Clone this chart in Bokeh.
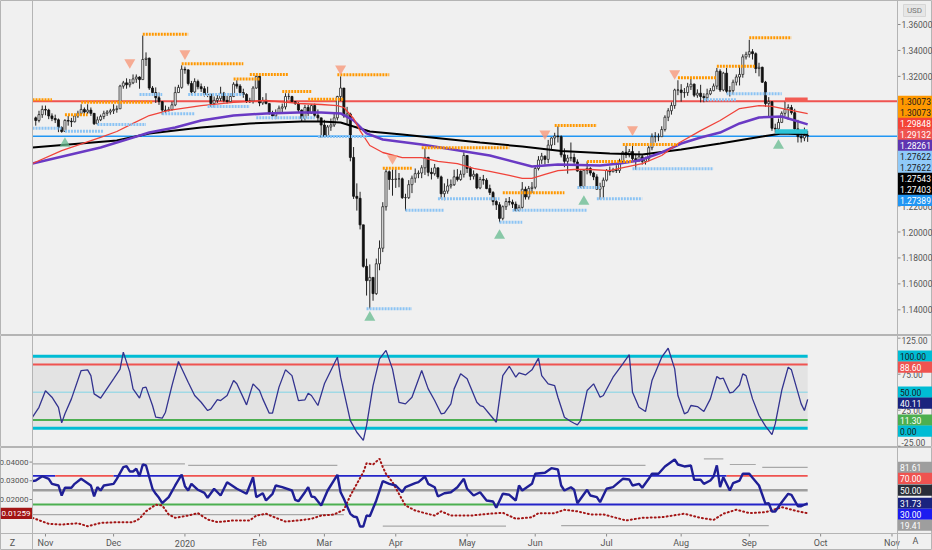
import numpy as np
import pandas as pd
from bokeh.plotting import figure
from bokeh.layouts import column
from bokeh.models import Range1d, Span
from bokeh.core.properties import value
from bokeh.embed import file_html
from bokeh.resources import INLINE

FONT = "Roboto"
BG = "#f0f0f0"
W = 932
LB, RB = 32, 35          # left / right scale areas (px)
H1, H2, H3 = 335, 112, 103
BAND = 17                # time scale band at the bottom of the last pane

# daily GBPUSD bars, one per weekday from 2019-10-29 to 2020-09-25
start_day = "2019-10-29"
first_open = 1.2880
close = [
    1.2860, 1.2905, 1.2945,
    1.2940, 1.2895, 1.2875, 1.2865, 1.2805, 1.2775, 1.2860, 1.2855, 1.2850, 1.2895, 1.2915, 1.2945, 1.2925, 1.2940, 1.2915, 1.2835, 1.2865, 1.2890, 1.2915, 1.2925, 1.2935,
    1.2945, 1.2950, 1.3125, 1.3150, 1.3135, 1.3150, 1.3180, 1.3195, 1.3175, 1.3330, 1.3340, 1.3110, 1.3075, 1.3035, 1.3005, 1.2940, 1.2935, 1.2945, 1.2980, 1.3075, 1.3115, 1.3255,
    1.3250, 1.3145, 1.3080, 1.3160, 1.3120, 1.3105, 1.3060, 1.3060, 1.2990, 1.3015, 1.3030, 1.3070, 1.3015, 1.3005, 1.3045, 1.3140, 1.3125, 1.3075, 1.3060, 1.3005, 1.3010, 1.3110, 1.3200,
    1.2995, 1.3015, 1.2990, 1.2915, 1.2895, 1.2920, 1.2955, 1.2965, 1.3045, 1.3045, 1.3005, 1.2990, 1.2940, 1.2875, 1.2960, 1.2915, 1.2975, 1.2900, 1.2880, 1.2825,
    1.2740, 1.2810, 1.2825, 1.2880, 1.3045, 1.3110, 1.2895, 1.2910, 1.2575, 1.2275, 1.2260, 1.2055, 1.1735, 1.1625, 1.1650, 1.1525, 1.1755, 1.1875, 1.2195, 1.2465, 1.2405, 1.2405,
    1.2410, 1.2410, 1.2265, 1.2265, 1.2365, 1.2415, 1.2450, 1.2455, 1.2495, 1.2575, 1.2460, 1.2450, 1.2495, 1.2425, 1.2295, 1.2315, 1.2355, 1.2365, 1.2425, 1.2405, 1.2445, 1.2590,
    1.2490, 1.2430, 1.2445, 1.2340, 1.2405, 1.2400, 1.2335, 1.2305, 1.2235, 1.2210, 1.2105, 1.2195, 1.2235, 1.2230, 1.2215, 1.2165, 1.2190, 1.2330, 1.2270, 1.2335, 1.2345,
    1.2490, 1.2555, 1.2585, 1.2560, 1.2670, 1.2725, 1.2740, 1.2735, 1.2595, 1.2545, 1.2570, 1.2575, 1.2540, 1.2470, 1.2350, 1.2475, 1.2490, 1.2455, 1.2425, 1.2330, 1.2350, 1.2400,
    1.2475, 1.2465, 1.2480, 1.2475, 1.2545, 1.2615, 1.2595, 1.2620, 1.2565, 1.2555, 1.2580, 1.2545, 1.2565, 1.2650, 1.2735, 1.2735, 1.2735, 1.2790, 1.2885, 1.2935, 1.2975, 1.3095, 1.3095,
    1.3075, 1.3075, 1.3120, 1.3140, 1.3055, 1.3070, 1.3045, 1.3035, 1.3065, 1.3090, 1.3125, 1.3240, 1.3095, 1.3225, 1.3085, 1.3090, 1.3155, 1.3195, 1.3215, 1.3350, 1.3370,
    1.3390, 1.3375, 1.3260, 1.3270, 1.3155, 1.2990, 1.3005, 1.2800, 1.2795, 1.2845, 1.2915, 1.2945, 1.2960, 1.2920, 1.2795, 1.2735, 1.2725, 1.2745, 1.2740,
]
high = [
    1.2890, 1.2935, 1.2975,
    1.2975, 1.2950, 1.2915, 1.2905, 1.2875, 1.2815, 1.2870, 1.2895, 1.2880, 1.2910, 1.2935, 1.2985, 1.2960, 1.2985, 1.2960, 1.2915, 1.2890, 1.2905, 1.2935, 1.2940, 1.2950,
    1.2985, 1.2975, 1.3135, 1.3165, 1.3185, 1.3180, 1.3215, 1.3215, 1.3200, 1.3515, 1.3385, 1.3345, 1.3125, 1.3115, 1.3075, 1.3010, 1.2975, 1.2965, 1.3005, 1.3120, 1.3135, 1.3285,
    1.3275, 1.3255, 1.3165, 1.3185, 1.3175, 1.3145, 1.3125, 1.3120, 1.3070, 1.3045, 1.3055, 1.3120, 1.3080, 1.3050, 1.3070, 1.3155, 1.3170, 1.3140, 1.3105, 1.3070, 1.3035, 1.3125, 1.3210,
    1.3215, 1.3040, 1.3070, 1.2990, 1.2935, 1.2945, 1.2975, 1.2990, 1.3070, 1.3070, 1.3050, 1.3010, 1.3000, 1.2945, 1.2980, 1.2980, 1.2985, 1.2990, 1.2945, 1.2870,
    1.2865, 1.2825, 1.2875, 1.2920, 1.3050, 1.3200, 1.3110, 1.2965, 1.2920, 1.2655, 1.2375, 1.2310, 1.2055, 1.1795, 1.1750, 1.1645, 1.1795, 1.1935, 1.2230, 1.2485, 1.2475, 1.2485,
    1.2485, 1.2455, 1.2420, 1.2295, 1.2400, 1.2435, 1.2490, 1.2475, 1.2515, 1.2645, 1.2580, 1.2495, 1.2525, 1.2495, 1.2435, 1.2375, 1.2410, 1.2405, 1.2480, 1.2485, 1.2475, 1.2615,
    1.2590, 1.2505, 1.2475, 1.2455, 1.2425, 1.2440, 1.2415, 1.2365, 1.2315, 1.2250, 1.2230, 1.2205, 1.2260, 1.2270, 1.2250, 1.2235, 1.2210, 1.2385, 1.2350, 1.2355, 1.2385,
    1.2505, 1.2585, 1.2610, 1.2590, 1.2710, 1.2730, 1.2765, 1.2815, 1.2745, 1.2645, 1.2595, 1.2690, 1.2605, 1.2560, 1.2475, 1.2480, 1.2545, 1.2500, 1.2465, 1.2445, 1.2380, 1.2420,
    1.2485, 1.2505, 1.2495, 1.2515, 1.2565, 1.2625, 1.2665, 1.2640, 1.2670, 1.2595, 1.2625, 1.2595, 1.2580, 1.2665, 1.2760, 1.2770, 1.2760, 1.2815, 1.2900, 1.2955, 1.3000, 1.3105, 1.3170,
    1.3140, 1.3110, 1.3150, 1.3185, 1.3145, 1.3100, 1.3135, 1.3070, 1.3105, 1.3110, 1.3145, 1.3265, 1.3255, 1.3235, 1.3265, 1.3125, 1.3175, 1.3215, 1.3285, 1.3370, 1.3390,
    1.3482, 1.3410, 1.3385, 1.3305, 1.3275, 1.3165, 1.3040, 1.3010, 1.2835, 1.2875, 1.2930, 1.3005, 1.2985, 1.2980, 1.2950, 1.2865, 1.2770, 1.2805, 1.2780,
]
low = [
    1.2820, 1.2845, 1.2880,
    1.2900, 1.2870, 1.2855, 1.2840, 1.2770, 1.2765, 1.2780, 1.2820, 1.2810, 1.2845, 1.2880, 1.2900, 1.2900, 1.2910, 1.2895, 1.2825, 1.2830, 1.2855, 1.2870, 1.2895, 1.2905,
    1.2910, 1.2920, 1.2950, 1.3105, 1.3105, 1.3115, 1.3140, 1.3150, 1.3105, 1.3175, 1.3280, 1.3095, 1.3060, 1.2995, 1.2980, 1.2905, 1.2915, 1.2930, 1.2935, 1.2970, 1.3075, 1.3105,
    1.3220, 1.3130, 1.3055, 1.3070, 1.3100, 1.3080, 1.3045, 1.3040, 1.2965, 1.2960, 1.2995, 1.3010, 1.3000, 1.2990, 1.2995, 1.3040, 1.3105, 1.3060, 1.3035, 1.2995, 1.2995, 1.2990, 1.3105,
    1.2970, 1.2980, 1.2985, 1.2905, 1.2870, 1.2870, 1.2915, 1.2925, 1.2945, 1.3020, 1.2995, 1.2980, 1.2925, 1.2855, 1.2860, 1.2895, 1.2910, 1.2885, 1.2850, 1.2725,
    1.2725, 1.2725, 1.2780, 1.2810, 1.2860, 1.3010, 1.2880, 1.2835, 1.2545, 1.2255, 1.2165, 1.2020, 1.1725, 1.1510, 1.1410, 1.1470, 1.1515, 1.1705, 1.1845, 1.2165, 1.2325, 1.2280,
    1.2340, 1.2345, 1.2255, 1.2165, 1.2255, 1.2300, 1.2380, 1.2415, 1.2415, 1.2440, 1.2430, 1.2405, 1.2435, 1.2410, 1.2255, 1.2245, 1.2295, 1.2335, 1.2355, 1.2390, 1.2395, 1.2420,
    1.2455, 1.2400, 1.2405, 1.2330, 1.2330, 1.2365, 1.2330, 1.2285, 1.2205, 1.2170, 1.2075, 1.2090, 1.2170, 1.2205, 1.2185, 1.2160, 1.2160, 1.2180, 1.2250, 1.2250, 1.2300,
    1.2330, 1.2475, 1.2525, 1.2520, 1.2530, 1.2640, 1.2670, 1.2690, 1.2575, 1.2500, 1.2450, 1.2545, 1.2525, 1.2465, 1.2340, 1.2335, 1.2445, 1.2435, 1.2400, 1.2330, 1.2250, 1.2255,
    1.2390, 1.2435, 1.2460, 1.2455, 1.2455, 1.2530, 1.2570, 1.2575, 1.2545, 1.2480, 1.2540, 1.2520, 1.2520, 1.2545, 1.2630, 1.2690, 1.2700, 1.2735, 1.2775, 1.2855, 1.2905, 1.2950, 1.3055,
    1.3005, 1.3035, 1.3050, 1.3095, 1.3040, 1.3035, 1.3000, 1.3000, 1.3005, 1.3055, 1.3085, 1.3100, 1.3080, 1.3085, 1.3070, 1.3045, 1.3060, 1.3130, 1.3130, 1.3190, 1.3330,
    1.3345, 1.3330, 1.3225, 1.3200, 1.3150, 1.2965, 1.2885, 1.2780, 1.2765, 1.2780, 1.2840, 1.2895, 1.2865, 1.2905, 1.2785, 1.2690, 1.2690, 1.2700, 1.2695,
]

# moving averages (bar, value)
ma_red = [(-1, 1.2528), (8, 1.2628), (20, 1.2729), (25, 1.2775), (30, 1.2837), (35, 1.2898), (41, 1.2937), (51, 1.2975),
          (61, 1.2999), (71, 1.3014), (81, 1.2991), (88, 1.2983), (93, 1.2975), (95, 1.2960), (98, 1.2875), (100, 1.2782),
          (103, 1.2667), (107, 1.2613), (113, 1.2574), (119, 1.2574), (124, 1.2544), (130, 1.2528), (135, 1.2490),
          (140, 1.2467), (146, 1.2436), (150, 1.2413), (153, 1.2413), (157, 1.2444), (161, 1.2474), (166, 1.2482),
          (171, 1.2482), (177, 1.2474), (180, 1.2490), (187, 1.2528), (193, 1.2590), (198, 1.2682), (205, 1.2782),
          (211, 1.2860), (217, 1.2952), (223, 1.2975), (227, 1.2968), (233, 1.2937), (238, 1.2913)]
ma_purple = [(-1, 1.2528), (20, 1.2652), (27, 1.2705), (35, 1.2767), (43, 1.2806), (51, 1.2860), (61, 1.2898), (71, 1.2914),
             (81, 1.2921), (88, 1.2921), (94, 1.2914), (98, 1.2860), (102, 1.2760), (107, 1.2713), (119, 1.2675),
             (140, 1.2590), (153, 1.2505), (161, 1.2521), (174, 1.2513), (180, 1.2528), (186, 1.2551), (193, 1.2613),
             (199, 1.2682), (205, 1.2729), (211, 1.2767), (217, 1.2837), (223, 1.2883), (230, 1.2891), (238, 1.2830)]
ma_black = [(-1, 1.2652), (25, 1.2705), (35, 1.2760), (51, 1.2806), (66, 1.2837), (82, 1.2852), (88, 1.2852), (94, 1.2844),
            (98, 1.2814), (103, 1.2775), (113, 1.2752), (125, 1.2721), (137, 1.2690), (150, 1.2659), (162, 1.2625),
            (177, 1.2605), (187, 1.2598), (199, 1.2636), (211, 1.2682), (224, 1.2736), (230, 1.2760), (238, 1.2752)]

# resistance / support runs (first bar, last bar, price)
resistance = [(-1, 5, 1.3020), (9, 16, 1.2905), (14, 36, 1.3000), (33, 47, 1.3525), (45, 64, 1.3297), (61, 69, 1.3180),
              (66, 78, 1.3214), (76, 85, 1.3083), (84, 95, 1.3024), (93, 109, 1.3212), (107, 116, 1.2492),
              (119, 146, 1.2649), (144, 163, 1.2302), (160, 173, 1.2821), (170, 184, 1.2543), (181, 198, 1.2674),
              (198, 210, 1.3189), (210, 222, 1.3278), (220, 233, 1.3497)]
support = [(-1, 8, 1.2800), (9, 21, 1.2777), (19, 34, 1.2829), (32, 39, 1.3060), (39, 49, 1.2911), (47, 64, 1.3060),
           (53, 66, 1.2968), (68, 86, 1.2880), (87, 102, 1.2736), (102, 116, 1.1408), (114, 126, 1.2168),
           (124, 143, 1.2256), (143, 150, 1.2075), (147, 170, 1.2168), (167, 174, 1.2343), (173, 187, 1.2256),
           (184, 209, 1.2487), (206, 216, 1.3019), (213, 230, 1.3066)]
last_resistance = (231, 238, 1.3019)
last_support = (228, 238, 1.2775)
swing_high_marks = [(29, 1.3307), (46, 1.3376), (94, 1.3260), (110, 1.2567), (157, 1.2759), (184, 1.2790), (197, 1.3222)]
swing_low_marks = [(9, 1.2682), (103, 1.1341), (143, 1.1973), (169, 1.2235), (229, 1.2667)]
red_level = 1.30073
blue_level = 1.27389
price_ticks = [1.14, 1.16, 1.18, 1.20, 1.22, 1.24, 1.26, 1.28, 1.30, 1.32, 1.34, 1.36]
price_tags = [(1.30073, "#ff9800", "#1a1a1a"), (1.30073, "#ff9800", "#1a1a1a"), (1.29848, "#f44336", "#ffffff"),
              (1.29132, "#ef5350", "#ffffff"), (1.28261, "#5e35b1", "#ffffff"), (1.27622, "#90caf9", "#1a1a1a"),
              (1.27622, "#90caf9", "#1a1a1a"), (1.27543, "#000000", "#ffffff"), (1.27403, "#000000", "#ffffff"),
              (1.27389, "#2196f3", "#ffffff")]

# oscillator pane (bar, value)
osc = [(-1, 15.3), (1, 29), (3, 52), (5, 43), (7, 29), (8, 7.4), (9, 20), (11, 40.7), (14, 80), (16, 81), (17, 73),
       (18, 47.7), (20, 41.7), (24, 68.5), (26, 82), (27, 105.6), (29, 77.8), (30, 54.6), (32, 41.7), (33, 56), (34, 57),
       (36, 31.5), (37, 15.3), (39, 13.9), (40, 22.2), (42, 59), (44, 92.6), (47, 63.9), (49, 45.4), (51, 36), (53, 24.5),
       (54, 26.9), (56, 39.8), (57, 38.4), (59, 45.4), (61, 66.2), (62, 61.6), (65, 32.4), (67, 61.6), (69, 52.3),
       (70, 40.7), (72, 20.8), (73, 20.8), (75, 57), (77, 81), (79, 73), (81, 38.4), (83, 39.4), (84, 48.6), (85, 45.4),
       (87, 31.5), (89, 61.6), (93, 98.6), (94, 70.8), (97, 10.6), (99, -5.6), (101, -17), (102, 3.7), (104, 59),
       (106, 96.3), (108, 108), (110, 82), (112, 36), (114, 33.8), (116, 43), (119, 80), (121, 54.6), (123, 38.4),
       (125, 20), (126, 20.8), (128, 33.8), (129, 54.6), (131, 75.5), (133, 68.5), (136, 36), (137, 31.5), (138, 30),
       (140, 19), (142, 8.3), (144, 73), (146, 86), (148, 70.8), (149, 76.9), (151, 74), (153, 81), (155, 97.2),
       (156, 73), (158, 61.6), (160, 59), (161, 43), (163, 15.3), (165, 9.3), (166, 6.9), (167, 4.6), (168, 10.6),
       (170, 52.3), (172, 61.6), (174, 43), (175, 45.4), (178, 70.8), (181, 89.4), (183, 102), (184, 50), (186, 29.2),
       (188, 23.1), (190, 66.2), (193, 98.6), (195, 111), (197, 82.4), (198, 45.4), (200, 20), (201, 22.2), (202, 31.5),
       (204, 30), (206, 23.1), (208, 40.7), (210, 71.8), (211, 68.5), (212, 69.4), (214, 49), (215, 50), (217, 60),
       (218, 75.5), (219, 73), (221, 40.7), (223, 17.6), (225, 2.8), (227, -8.8), (228, 6), (230, 52.3), (232, 84.7),
       (233, 81), (236, 33.8), (237, 24.5), (238, 40.11)]
osc_levels = [(100, "#00bcd4", 3), (88.6, "#ef5350", 2), (50, "#80d4e6", 1), (11.3, "#4caf50", 2), (0, "#00bcd4", 3)]
osc_ticks = [-25, 25, 75, 125]
osc_tags = [(100.0, "#00bcd4", "#1a1a1a"), (88.60, "#ef5350", "#ffffff"), (50.0, "#00bcd4", "#1a1a1a"),
            (40.11, "#1a237e", "#ffffff"), (11.30, "#4caf50", "#ffffff"), (0.0, "#00bcd4", "#1a1a1a")]

# RSI / ATR pane
rsi = [(-1, 62.5), (0, 63.4), (2, 69.4), (4, 65.8), (5, 58.8), (7, 56.5), (8, 42.5), (9, 53.3), (11, 53.3), (12, 58.8),
       (14, 65.8), (16, 59.7), (17, 56.5), (18, 41.2), (19, 54.1), (20, 49.5), (21, 56.5), (24, 58.8), (25, 65.8),
       (27, 82), (28, 83.4), (29, 76), (30, 76), (31, 79.8), (32, 69.4), (33, 85.7), (34, 84.4), (36, 51.9), (37, 44.9),
       (38, 39.3), (39, 31.8), (41, 40.2), (43, 56.5), (45, 71.8), (46, 55.5), (47, 49.5), (48, 58.8), (50, 50.5),
       (52, 46.3), (53, 39.3), (55, 51.9), (57, 42.5), (59, 61.1), (62, 51.9), (65, 44.9), (67, 68), (68, 40.2),
       (70, 45.7), (71, 35.6), (73, 44.9), (74, 56.5), (76, 54.1), (79, 49.5), (80, 36.5), (81, 34.6), (83, 47.1),
       (84, 54.1), (85, 41.2), (86, 40.2), (88, 28.6), (90, 49.5), (93, 71.4), (94, 47.1), (95, 38), (97, 17),
       (98, 13.3), (99, 12.3), (100, -0.7), (101, -0.7), (102, 14.7), (103, 13.7), (105, 35.6), (107, 62.5),
       (109, 58.8), (111, 56.5), (113, 47.1), (114, 54.1), (117, 59.7), (118, 61.1), (120, 69), (121, 58.8),
       (123, 54.1), (124, 41.2), (126, 45.7), (128, 47.1), (130, 54.1), (132, 65.8), (133, 51.9), (135, 42.5),
       (137, 47.1), (139, 35.6), (141, 34.2), (142, 25.4), (144, 44.9), (146, 43.5), (148, 35.6), (149, 56.5),
       (150, 49.5), (153, 58.8), (154, 72.8), (157, 74.2), (159, 80.6), (161, 78.8), (162, 56.5), (163, 49.5),
       (165, 54.1), (166, 50.5), (167, 31.8), (170, 50.5), (171, 42.5), (173, 40.2), (174, 33.2), (176, 51.9),
       (178, 54.1), (181, 65.8), (183, 64.8), (184, 56.5), (186, 58.8), (187, 53.3), (189, 65.8), (190, 72.8),
       (192, 72.8), (194, 83), (197, 92.7), (198, 85.7), (200, 83), (202, 84.4), (203, 64.4), (205, 64.4),
       (206, 58.8), (208, 63.4), (209, 69), (210, 84.4), (211, 54.1), (212, 68), (214, 49.5), (215, 59.7),
       (217, 63.4), (218, 72.8), (220, 72.8), (221, 67.2), (223, 56.5), (225, 31), (226, 31.8), (227, 20.2),
       (228, 20.2), (230, 33.2), (232, 44.9), (233, 43.5), (235, 27.6), (236, 27.6), (238, 31.73)]
atr = [(-1, 0.0102), (4, 0.0070), (8, 0.0066), (13, 0.0073), (16, 0.0057), (20, 0.0075), (26, 0.0079), (30, 0.0079),
       (32, 0.0097), (34, 0.0137), (37, 0.0172), (39, 0.0168), (41, 0.0120), (43, 0.0102), (47, 0.0114), (50, 0.0127),
       (53, 0.0093), (56, 0.0079), (61, 0.0088), (66, 0.0088), (68, 0.0114), (71, 0.0124), (74, 0.0102), (77, 0.0082),
       (81, 0.0088), (85, 0.0097), (88, 0.0114), (92, 0.0120), (95, 0.0145), (97, 0.0221), (99, 0.0284), (101, 0.0346),
       (102, 0.0394), (104, 0.0387), (106, 0.0418), (107, 0.0373), (108, 0.0337), (110, 0.0293), (112, 0.0230),
       (114, 0.0168), (117, 0.0141), (120, 0.0127), (123, 0.0114), (125, 0.0137), (128, 0.0114), (134, 0.0114),
       (140, 0.0124), (144, 0.0129), (148, 0.0097), (153, 0.0105), (155, 0.0127), (160, 0.0127), (163, 0.0145),
       (167, 0.0137), (171, 0.0120), (175, 0.0120), (182, 0.0088), (187, 0.0102), (193, 0.0105), (200, 0.0124),
       (205, 0.0102), (209, 0.0091), (212, 0.0124), (216, 0.0145), (220, 0.0127), (225, 0.0132), (230, 0.0159),
       (234, 0.0141), (238, 0.01259)]
rsi_high_runs = [(-1, 46, 86.5), (47, 93, 84.4), (107, 188, 84.4), (206, 212, 93.6), (214, 222, 85.7), (224, 238, 81.61)]
rsi_low_runs = [(-1, 95, 16.0), (107, 145, 0.0), (162, 226, 0.7)]
upper_runs = [(-1, 6, "#2424c8"), (6, 24, "#ef5350"), (24, 45, "#2424c8"), (45, 93, "#ef5350"),
              (93, 213, "#2424c8"), (213, 238, "#ef5350")]
lower_runs = [(-1, 143, "#4caf50"), (143, 238, "#2424c8")]
rsi_tags = [(81.61, "#9e9e9e", "#ffffff"), (70.0, "#ef5350", "#ffffff"), (50.0, "#2a2e39", "#ffffff"),
            (31.73, "#1a237e", "#ffffff"), (30.0, "#1c1cf0", "#ffffff"), (19.41, "#9e9e9e", "#ffffff")]
atr_ticks = [0.02, 0.03, 0.04]
atr_tag = (0.01259, "#a31515", "#ffffff")

# horizontal geometry: bars -1 .. 265.7 fill the area between the two scales
X0, X1 = -1.0, 265.7
SX = (W - LB - RB) / (X1 - X0)
XL, XR = X0 - LB / SX, X1 + RB / SX
x_range = Range1d(XL, XR)


def make_fig(h, y0, y1):
    f = figure(width=W, height=h, x_range=x_range, y_range=Range1d(y0, y1),
               output_backend="svg", toolbar_location=None,
               x_axis_location=None, y_axis_location=None, min_border=0,
               background_fill_color=BG, border_fill_color=BG,
               outline_line_color="#b4b4b4", outline_line_width=1)
    f.grid.visible = False
    for loc in (X0, X1):
        f.add_layout(Span(location=loc, dimension="height", line_color="#b4b4b4", line_width=1))
    return f


def txt(f, xs, ys, labels, size="9px", color="#555555", align="left", **kw):
    f.text(x=xs, y=ys, text=labels, text_font=value(FONT), text_font_size=size, text_color=color,
           text_align=align, text_baseline="middle", **kw)


def right_ticks(f, ticks, fmt, y0, y1, sy):
    n = len(ticks)
    f.segment([X1] * n, ticks, [X1 + 3 / SX] * n, ticks, line_color="#8a8a8a", line_width=1)
    ty = [min(max(t, y0 + 5 / sy), y1 - 5 / sy) for t in ticks]
    txt(f, [X1 + 4 / SX] * n, ty, [fmt % t for t in ticks], size="8.5px")


def tags(f, items, y1, sy, fmt, side="right", **kw):
    last = -1e9
    for val, bg, fg in sorted(items, key=lambda t: -t[0]):
        py = max((y1 - val) * sy, last + 11)
        last = py
        yc = y1 - py / sy
        hh = 5.6 / sy
        if side == "right":
            f.quad(left=[X1], right=[XR], bottom=[yc - hh], top=[yc + hh], fill_color=bg, line_color=None, **kw)
            txt(f, [X1 + 2.5 / SX], [yc], [fmt % val], size="8.5px", color=fg, **kw)
        else:
            f.quad(left=[XL], right=[X0], bottom=[yc - hh], top=[yc + hh], fill_color=bg, line_color=None, **kw)
            txt(f, [X0 - 2 / SX], [yc], [fmt % val], size="8px", color=fg, align="right", **kw)


def unzip(pts):
    return [p[0] for p in pts], [p[1] for p in pts]


def runs_xy(runs):
    return [r[0] for r in runs], [r[2] for r in runs], [r[1] for r in runs], [r[2] for r in runs]


n = len(close)
pos = np.arange(n)
c = np.array(close)
o = np.r_[first_open, c[:-1]]
up = c >= o
last_bar = n - 1

# ---------- main price pane ----------
P0, P1 = 1.1202, 1.3785
SY1 = H1 / (P1 - P0)
p1 = make_fig(H1, P0, P1)
right_ticks(p1, price_ticks, "%.5f", P0, P1, SY1)

p1.segment([X0, X0], [red_level, blue_level], [X1, X1], [red_level, blue_level],
           line_color=["#ef5350", "#2196f3"], line_width=[2, 1.5])

p1.segment(pos, high, pos, low, line_color="#222222", line_width=1)
p1.vbar(x=pos[up], bottom=o[up], top=c[up], width=0.62, fill_color="#ffffff", line_color="#222222", line_width=0.8)
p1.vbar(x=pos[~up], bottom=c[~up], top=o[~up], width=0.62, fill_color="#111111", line_color="#111111", line_width=0.8)

for pts, col, lw in [(ma_black, "#000000", 2), (ma_purple, "#6a3ac4", 2.5), (ma_red, "#f0433a", 1.3)]:
    xs, ys = unzip(pts)
    p1.line(xs, ys, line_color=col, line_width=lw)

for runs, col in [(resistance, "#ff9800"), (support, "#8cc4f4")]:
    p1.segment(*runs_xy(runs), line_color=col, line_width=3, line_dash="2 1")
p1.segment(*runs_xy([last_resistance]), line_color="#f25c54", line_width=4.5)
p1.segment(*runs_xy([last_support]), line_color="#2ec4d6", line_width=4.5)

xs, ys = unzip(swing_high_marks)
p1.scatter(xs, ys, marker="inverted_triangle", size=11, fill_color="#f79a7c", fill_alpha=0.8, line_color=None)
xs, ys = unzip(swing_low_marks)
p1.scatter(xs, ys, marker="triangle", size=11, fill_color="#66bb8f", fill_alpha=0.75, line_color=None)

tags(p1, price_tags, P1, SY1, "%.5f")
usd_y = P1 - 10 / SY1
p1.quad(left=[X1 + 6 / SX], right=[X1 + 28 / SX], bottom=[usd_y - 6 / SY1], top=[usd_y + 6 / SY1],
        fill_color="#e6e6e6", line_color="#d6d6d6")
txt(p1, [X1 + 17 / SX], [usd_y], ["USD"], size="8px", color="#777777", align="center")

# ---------- oscillator pane ----------
O0, O1 = -26.8, 128.7
SY2 = H2 / (O1 - O0)
p2 = make_fig(H2, O0, O1)
right_ticks(p2, osc_ticks, "%.2f", O0, O1, SY2)
p2.quad(left=[X0], right=[last_bar], bottom=[0], top=[100], fill_color="#e3e3e3", line_color=None)
for lvl, col, lw in osc_levels:
    p2.segment([X0], [lvl], [last_bar], [lvl], line_color=col, line_width=lw)
xs, ys = unzip(osc)
p2.line(xs, ys, line_color="#33338f", line_width=1.3)
tags(p2, osc_tags, O1, SY2, "%.2f")

# ---------- RSI / ATR pane with time scale ----------
R0, R1 = -10.4, 109.4
A0, A1 = 0.00182, 0.0478
SY3 = (H3 - BAND) / (R1 - R0)
SA3 = (H3 - BAND) / (A1 - A0)
p3 = make_fig(H3, R0 - BAND / SY3, R1)
p3.extra_y_ranges = {"atr": Range1d(A0 - BAND / SA3, A1)}
p3.add_layout(Span(location=R0, dimension="width", line_color="#b4b4b4", line_width=1))

p3.segment([X0], [50], [last_bar], [50], line_color="#9e9e9e", line_width=2.5)
for runs in (rsi_high_runs, rsi_low_runs):
    p3.segment(*runs_xy(runs), line_color="#a8a8a8", line_width=1.2)
for runs, lvl in [(upper_runs, 70), (lower_runs, 30)]:
    p3.segment([r[0] for r in runs], [lvl] * len(runs), [r[1] for r in runs], [lvl] * len(runs),
               line_color=[r[2] for r in runs], line_width=1.8)
xs, ys = unzip(atr)
p3.line(xs, ys, y_range_name="atr", line_color="#a31515", line_width=2, line_dash="1 3", line_cap="round")
xs, ys = unzip(rsi)
p3.line(xs, ys, line_color="#1f1f96", line_width=2.4)

tags(p3, rsi_tags, R1, SY3, "%.2f")
nt = len(atr_ticks)
p3.segment([X0 - 3 / SX] * nt, atr_ticks, [X0] * nt, atr_ticks, line_color="#8a8a8a", y_range_name="atr")
txt(p3, [X0 - 4 / SX] * nt, atr_ticks, ["%.5f" % t for t in atr_ticks], size="8px", align="right",
    y_range_name="atr")
tags(p3, [atr_tag], A1, SA3, "%.5f", side="left", y_range_name="atr")

# time scale
axis_days = pd.bdate_range(start_day, "2020-11-30")
month_pos, month_txt = [], []
for i in range(1, len(axis_days)):
    if axis_days[i].month != axis_days[i - 1].month:
        month_pos.append(i)
        month_txt.append("2020" if axis_days[i].month == 1 else axis_days[i].strftime("%b"))
nm = len(month_pos)
p3.segment(month_pos, [R0] * nm, month_pos, [R0 - 3 / SY3] * nm, line_color="#8a8a8a")
txt(p3, month_pos, [R0 - 9.5 / SY3] * nm, month_txt, size="9px", align="center")
txt(p3, [XL + 12 / SX], [R0 - 9 / SY3], ["Z"], size="9px", align="center")
txt(p3, [X1 + 18 / SX], [R0 - 7 / SY3], ["A"], size="9px", align="center")

layout = column(p1, p2, p3)
open("out.html", "w").write(file_html(layout, INLINE))
